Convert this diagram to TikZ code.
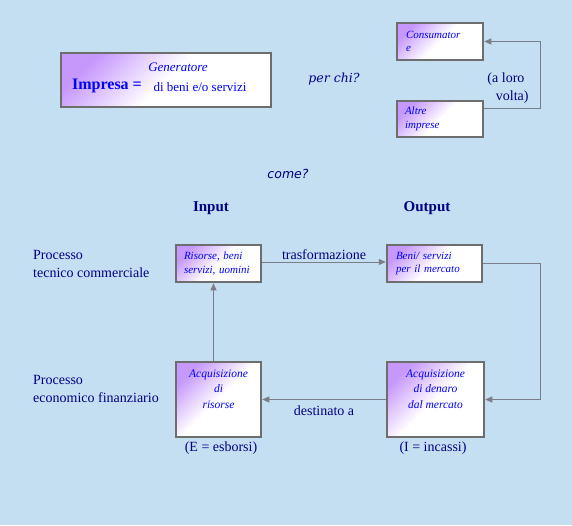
\documentclass[tikz,border=0pt]{standalone}
\usepackage{fontspec}
\setmainfont{Liberation Serif}
\setsansfont{DejaVu Sans}
\newfontfamily\chifont{DejaVu Serif}
\usepackage{xcolor}
\usepackage{tikz}
\usetikzlibrary{
  arrows.meta,
  positioning
}
\definecolor{bgsky}{RGB}{196, 222, 242}
\definecolor{boxviolet}{RGB}{198, 152, 252}
\definecolor{boxgray}{RGB}{110, 110, 110}
\definecolor{linegray}{RGB}{125, 125, 135}
\definecolor{boxtext}{RGB}{0, 0, 255}
\definecolor{navytext}{RGB}{0, 0, 128}

\tikzset{
  box/.style={draw=boxgray, line width=2.5pt, top color=boxviolet, bottom color=white,
    middle color=white, shading angle=45, text=boxtext, inner sep=0pt,
    font=\fontsize{11}{13.5}\selectfont\itshape},
  label/.style={text=navytext, font=\fontsize{14}{17.5}\selectfont, inner sep=0pt},
  arr/.style={draw=linegray, line width=0.8pt, -{Triangle[length=7pt,width=6pt]}}
}

\begin{document}
\begin{tikzpicture}[x=1pt, y=-1pt]
  \useasboundingbox (0,0) rectangle (572,525);
  \fill[bgsky] (0,0) rectangle (572,525);
  % Impresa box
  \node[box, minimum width=210pt, minimum height=54pt] (impresa) at (166,80) {};
  \node[text=boxtext, font=\fontsize{13}{15}\selectfont\itshape] (gen) at (178,67) {Generatore};
  \node[text=boxtext, font=\fontsize{16}{18}\selectfont\bfseries] (imp) at (107,86) {Impresa =};
  \node[text=boxtext, font=\fontsize{13}{15}\selectfont] (beniserv) at (200,87) {di beni e/o servizi};
  % per chi? - destinatari
  \node[text=navytext, font=\fontsize{12.5}{15}\selectfont\chifont\itshape] (perchi) at (334,79) {per chi?};
  \node[box, minimum width=86pt, minimum height=37pt, text width=68pt, align=left] (consum) at (440,41.5) {Consumator\\e};
  \node[box, minimum width=86pt, minimum height=36pt, text width=70pt, align=left] (altre) at (440,119) {Altre\\imprese};
  \draw[arr] ([yshift=11pt]altre.east) -- ++(56,0) |- (consum.east);
  \node[label, align=left] (loro) at (508,88) {(a loro\\\hspace*{0.6em}volta)};
  % come? - input / output
  \node[text=navytext, font=\fontsize{12.5}{15}\selectfont\sffamily\itshape] (come) at (288,174) {come?};
  \node[text=navytext, font=\fontsize{15}{17}\selectfont\bfseries] (input) at (211,208) {Input};
  \node[text=navytext, font=\fontsize{15}{17}\selectfont\bfseries] (output) at (427,208) {Output};
  % processo tecnico commerciale
  \node[label, anchor=west, align=left] (ptc) at (33,264) {Processo\\tecnico commerciale};
  \node[box, minimum width=85pt, minimum height=37pt, text width=69pt, align=left] (risorse) at (218.5,263.5) {Risorse, beni\\servizi, uomini};
  \node[box, minimum width=95pt, minimum height=37pt, text width=77pt, align=left] (beni) at (434.5,263.5) {Beni/ servizi\\per il mercato};
  \draw[arr] ([yshift=1.5pt]risorse.east) -- node[label, above=2pt] {trasformazione} ([yshift=1.5pt]beni.west);
  % processo economico finanziario
  \node[label, anchor=west, align=left] (pef) at (33,389) {Processo\\economico finanziario};
  \node[box, minimum width=85pt, minimum height=75pt, align=center,
    font=\fontsize{11.5}{15.5}\selectfont\itshape] (acqris) at (218.5,399.5) {Acquisizione\\di\\risorse\\[6pt]};
  \node[box, minimum width=97pt, minimum height=75pt, align=center,
    font=\fontsize{11.5}{15.5}\selectfont\itshape] (acqden) at (435.5,399.5) {Acquisizione\\di denaro\\dal mercato\\[6pt]};
  \draw[arr] (beni.east) -- ++(57,0) |- (acqden.east);
  \draw[arr] (acqden.west) -- node[label, below=6pt] {destinato a} (acqris.east);
  \draw[arr] ([xshift=-5pt]acqris.north) -- ([xshift=-5pt]risorse.south);
  \node[label] (esborsi) at (221,448) {(E = esborsi)};
  \node[label] (incassi) at (433,448) {(I = incassi)};
\end{tikzpicture}
\end{document}
